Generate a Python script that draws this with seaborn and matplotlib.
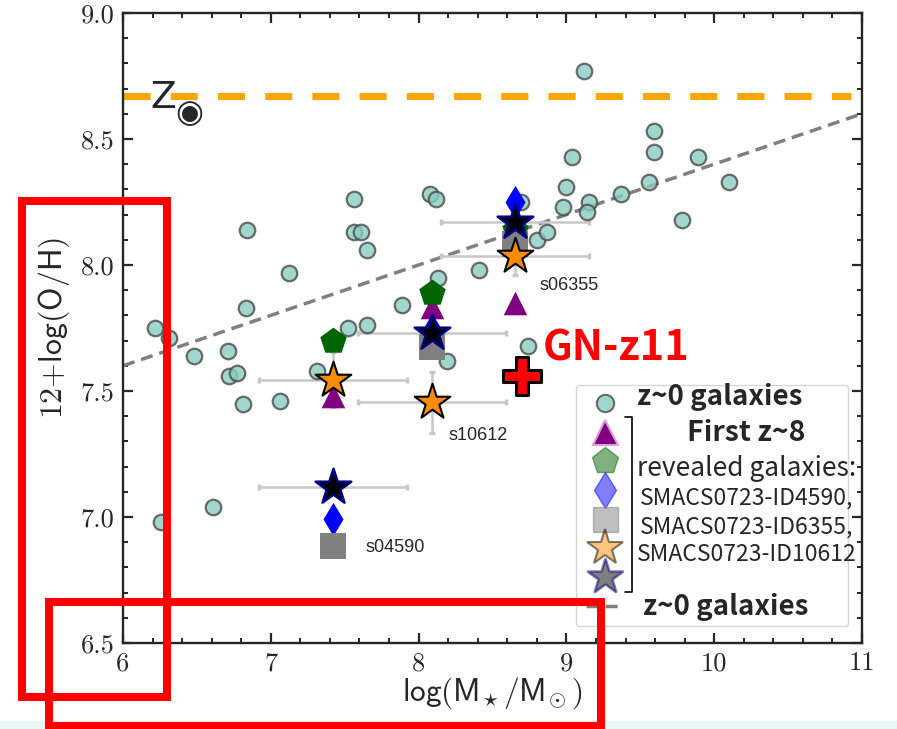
import numpy as np
import pandas as pd
import matplotlib
matplotlib.use("Agg")
import matplotlib.pyplot as plt
import seaborn as sns
from matplotlib.lines import Line2D
from matplotlib.patches import Rectangle
from matplotlib.ticker import MultipleLocator, FuncFormatter

# z~0 comparison galaxies: log stellar mass, 12+log(O/H)
z0_logm = [6.22, 6.31, 6.48, 6.71, 6.72, 6.77, 6.81, 6.83, 6.84, 7.12, 7.06,
           7.31, 6.61, 6.26, 7.56, 7.56, 7.61, 7.65, 7.52, 7.65, 7.89, 8.08,
           8.12, 8.13, 8.19, 8.41, 8.74, 8.69, 8.80, 8.87, 8.98, 9.00, 9.04,
           9.12, 9.15, 9.14, 9.37, 9.56, 9.59, 9.59, 9.78, 9.89, 10.10]
z0_oh = [7.75, 7.71, 7.64, 7.66, 7.56, 7.57, 7.45, 7.83, 8.14, 7.97, 7.46,
         7.58, 7.04, 6.98, 8.26, 8.13, 8.13, 8.06, 7.75, 7.76, 7.84, 8.28,
         8.26, 7.95, 7.62, 7.98, 7.68, 8.25, 8.10, 8.13, 8.23, 8.31, 8.43,
         8.77, 8.25, 8.21, 8.28, 8.33, 8.53, 8.45, 8.18, 8.43, 8.33]

# z~8 SMACS0723 galaxies, one column per stellar-mass estimate
hz_logm = [7.42, 8.09, 8.65]
mass_err = [0.5, 0.5, 0.5]
tri_oh = [7.48, 7.835, 7.85]
pent_oh = [7.70, 7.89, 8.14]
diam_oh = [6.99, 7.74, 8.25]
sq_oh = [6.885, 7.675, 8.085]
ostar_oh = [7.545, 7.455, 8.035]
ostar_yerr = [0.11, 0.12, 0.075]
bstar_oh = [7.12, 7.73, 8.17]

gnz11_logm = [8.70]
gnz11_oh = [7.56]

solar_oh = 8.67
mzr_slope, mzr_at6 = 0.20, 7.60  # z~0 relation

id_names = ["s04590", "s10612", "s06355"]
id_x = [7.64, 8.20, 8.82]
id_y = [6.88, 7.325, 7.92]

circ_face = "#88ccc1"
circ_edge = "#4a4a4a"

sns.set_style("ticks")
plt.rcParams["mathtext.fontset"] = "cm"
plt.rcParams["font.family"] = ["DejaVu Sans"]

fig = plt.figure(figsize=(8.97, 7.29), dpi=100)
ax = fig.add_axes([0.1371, 0.1180, 0.8239, 0.8642])

# reference lines
ax.axhline(solar_oh, xmax=0.985, color="orange", lw=5, dashes=(3.9, 2.9), zorder=1)
xs = np.array([6.0, 11.0])
ax.plot(xs, mzr_at6 + mzr_slope * (xs - 6.0), color="gray", lw=2.5,
        dashes=(3.5, 2.0), zorder=1.2)

# error bars
ekw = dict(fmt="none", ecolor="#c8c8c8", elinewidth=1.8, capsize=2.5, capthick=2.5, zorder=1.5)
ax.errorbar(hz_logm, ostar_oh, xerr=mass_err, yerr=ostar_yerr, **ekw)
ax.errorbar(hz_logm, bstar_oh, xerr=mass_err, **ekw)

sns.scatterplot(x=z0_logm, y=z0_oh, ax=ax, s=125, color=circ_face, edgecolor=circ_edge,
                linewidth=1.6, alpha=0.8, zorder=3)

sns.scatterplot(x=hz_logm, y=tri_oh, ax=ax, marker="^", s=17**2, color="purple",
                edgecolor="purple", linewidth=0, zorder=4)
sns.scatterplot(x=hz_logm, y=pent_oh, ax=ax, marker="p", s=20**2, color="darkgreen",
                edgecolor="darkgreen", linewidth=0, zorder=4.1)
sns.scatterplot(x=hz_logm, y=diam_oh, ax=ax, marker="d", s=17**2, color="blue",
                edgecolor="blue", linewidth=0, zorder=4.2)
sns.scatterplot(x=hz_logm, y=sq_oh, ax=ax, marker="s", s=18.5**2, color="gray",
                edgecolor="gray", linewidth=0, zorder=4.3)
sns.scatterplot(x=hz_logm, y=ostar_oh, ax=ax, marker="*", s=27**2, color="darkorange",
                edgecolor="black", linewidth=1.5, zorder=4.4)
sns.scatterplot(x=hz_logm, y=bstar_oh, ax=ax, marker="*", s=27**2, color="black",
                edgecolor="navy", linewidth=1.8, zorder=4.5)
sns.scatterplot(x=gnz11_logm, y=gnz11_oh, ax=ax, marker="P", s=27**2, color="red",
                edgecolor="black", linewidth=2.2, zorder=5)

for name, tx, ty in zip(id_names, id_x, id_y):
    ax.text(tx, ty, name, fontsize=13, family="Liberation Sans", va="center", ha="left", zorder=6)

ax.text(8.84, 7.667, "GN-z11", color="red", fontsize=30, weight="bold",
        family=["Noto Sans CJK KR", "DejaVu Sans"], va="center", ha="left", zorder=6)
ax.text(6.183, 8.623, "Z", fontsize=27, ha="left", va="baseline", zorder=6)
ax.text(6.445, 8.60, "\u25c9", fontsize=23, ha="center", va="center", zorder=6)

ax.set_xlim(6, 11)
ax.set_ylim(6.5, 9.0)
ax.xaxis.set_major_locator(MultipleLocator(1))
ax.xaxis.set_minor_locator(MultipleLocator(0.2))
ax.yaxis.set_major_locator(MultipleLocator(0.5))
ax.yaxis.set_minor_locator(MultipleLocator(0.1))
ax.xaxis.set_major_formatter(FuncFormatter(lambda v, p: f"{v:.0f}"))
ax.yaxis.set_major_formatter(FuncFormatter(lambda v, p: f"{v:.1f}"))
ax.tick_params(which="both", direction="in", top=True, right=True, labelsize=19, pad=6,
               labelfontfamily="cmr10")
ax.tick_params(which="major", length=7.2, width=1.6)
ax.tick_params(which="minor", length=3.6, width=1.4)
for sp in ax.spines.values():
    sp.set_linewidth(1.7)
ax.set_xlabel(r"$\mathsf{log(M}_{\!\star}\mathsf{/M}_{\!\odot}\mathsf{)}$", fontsize=22.5, labelpad=0)
ax.set_ylabel(r"$\mathsf{12{+}log(O/H)}$", fontsize=23, labelpad=6)

# legend markers, labels are written on top afterwards
leg_handles = [
    Line2D([], [], ls="none", marker="o", ms=12.5, mfc=circ_face, mec=circ_edge, mew=1.5, alpha=0.8),
    Line2D([], [], ls="none", marker="^", ms=18, mfc="purple", mec="plum", mew=1.5),
    Line2D([], [], ls="none", marker="p", ms=20, mfc="darkgreen", mec="darkgreen", alpha=0.5),
    Line2D([], [], ls="none", marker="d", ms=18, mfc="blue", mec="blue", alpha=0.5),
    Line2D([], [], ls="none", marker="s", ms=18, mfc="gray", mec="gray", alpha=0.5),
    Line2D([], [], ls="none", marker="*", ms=27, mfc="darkorange", mec="black", mew=1.5, alpha=0.5),
    Line2D([], [], ls="none", marker="*", ms=27, mfc="black", mec="navy", mew=1.8, alpha=0.5),
    Line2D([], [], color="gray", lw=2.5, dashes=(3.5, 2.0)),
]
ax.legend(leg_handles, [""] * len(leg_handles), loc="upper left",
          bbox_to_anchor=(0.613, 0.0238, 0.368, 0.3857), mode="expand", borderaxespad=0,
          fontsize=12, labelspacing=0.66, borderpad=0.6, handlelength=2.3,
          handletextpad=0.3, framealpha=0.8, edgecolor="0.8")

cjk = ["Noto Sans CJK KR", "DejaVu Sans"]
tkw = dict(transform=ax.transAxes, family=cjk, va="center", zorder=7)
ax.text(0.6955, 0.3905, "z~0 galaxies", ha="left", weight="bold", fontsize=20, **tkw)
ax.text(0.8437, 0.3333, "First z~8", ha="center", weight="bold", fontsize=20.5, **tkw)
ax.text(0.8444, 0.2762, "revealed galaxies:", ha="center", fontsize=19, **tkw)
ax.text(0.8437, 0.2302, "SMACS0723-ID4590,", ha="center", fontsize=16.5, **tkw)
ax.text(0.8437, 0.1841, "SMACS0723-ID6355,", ha="center", fontsize=16.5, **tkw)
ax.text(0.8437, 0.1397, "SMACS0723-ID10612", ha="center", fontsize=16.5, **tkw)
ax.text(0.7037, 0.0571, "z~0 galaxies", ha="left", weight="bold", fontsize=20, **tkw)
ax.plot([0.6793, 0.6884, 0.6884, 0.6793], [0.3587, 0.3587, 0.081, 0.081],
        transform=ax.transAxes, color="black", lw=1.2, clip_on=False, zorder=7)

# highlight boxes drawn over the figure
fig.add_artist(Rectangle((0, 0), 1, 8 / 729, transform=fig.transFigure,
                         color="#eaf6f8", zorder=-1))
for x0, y0, w, h in [(0.0245, 0.0439, 0.1617, 0.6804), (0.0546, 0.0041, 0.6154, 0.170)]:
    fig.add_artist(Rectangle((x0, y0), w, h, transform=fig.transFigure, fill=False,
                             ec="red", lw=5.8, zorder=10))

fig.savefig("out.png", dpi=100)
